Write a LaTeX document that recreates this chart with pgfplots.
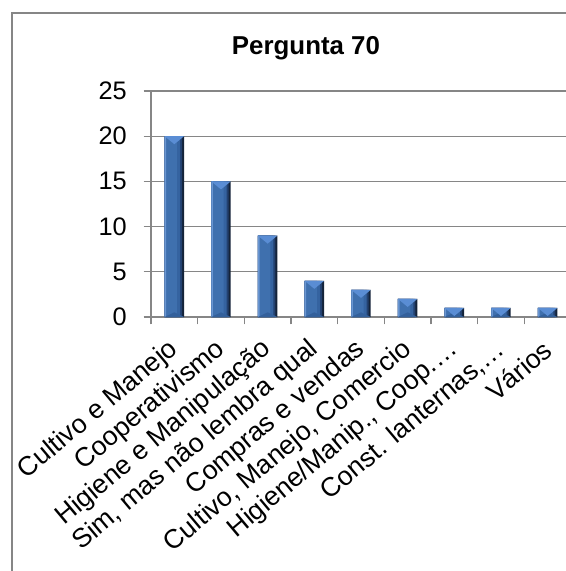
\documentclass[border=0pt]{standalone}
\usepackage{fontspec}
\setmainfont{Liberation Sans}
\usepackage{pgfplots}
\usepackage{pgfplotstable}
\pgfplotsset{compat=1.18}
\definecolor{gridc}{HTML}{868686}
\definecolor{bA}{HTML}{6A96D2}
\definecolor{bC}{HTML}{3F70AE}
\definecolor{bD}{HTML}{3563A0}
\definecolor{bE}{HTML}{234170}
\definecolor{bF}{HTML}{142339}
\definecolor{btop}{HTML}{5A8DD4}
\definecolor{bbot}{HTML}{33609B}
\pgfdeclareplotmark{bevtop}{\pgfpathmoveto{\pgfqpoint{-7.3pt}{0pt}}\pgfpathlineto{\pgfqpoint{7.3pt}{0pt}}\pgfpathlineto{\pgfqpoint{0pt}{-6pt}}\pgfpathclose\pgfusepathqfill}
\pgfdeclareplotmark{bevbot}{\pgfpathmoveto{\pgfqpoint{-7.3pt}{0pt}}\pgfpathlineto{\pgfqpoint{7.3pt}{0pt}}\pgfpathlineto{\pgfqpoint{0pt}{3.5pt}}\pgfpathclose\pgfusepathqfill}
\pgfplotstableread{
x y z
0 20 0
1 15 0
2 9 0
3 4 0
4 3 0
5 2 0
6 1 0
7 1 0
8 1 0
}\datatable
\begin{document}
\begin{tikzpicture}
\path[use as bounding box, clip] (0,0) rectangle (424.5pt,428.25pt);
\fill[white] (0,0) rectangle (424.5pt,428.25pt);
\draw[gridc, line width=0.8pt] (9pt,418.5pt) rectangle (520pt,-60pt);
\node[anchor=base, inner sep=0pt, font=\fontsize{19.4}{23}\selectfont\bfseries] at (229.5pt,387.4pt) {Pergunta 70};
\begin{axis}[
  at={(113.25pt,190.5pt)}, anchor=south west,
  scale only axis, width=315pt, height=169.5pt,
  xmin=-0.5, xmax=8.5, ymin=0, ymax=25,
  axis lines*=left,
  axis line style={gridc, line width=0.8pt},
  ytick={0,5,...,25},
  ymajorgrids, grid style={gridc, line width=0.8pt},
  xtick={-0.5,0.5,...,8.5},
  x tick label as interval,
  xticklabels={{Cultivo e Manejo},{Cooperativismo},{Higiene e Manipulação},{Sim, mas não lembra qual},{Compras e vendas},{Cultivo, Manejo, Comercio},{Higiene/Manip., Coop.…},{Const. lanternas,…},{Vários}},
  tick align=outside, major tick length=5.5pt,
  tick style={gridc, line width=0.8pt},
  /pgf/number format/assume math mode=true,
  tick label style={font=\fontsize{19}{23}\selectfont, black},
  yticklabel style={anchor=east, inner sep=0pt, xshift=-12.5pt},
  xticklabel style={xshift=0.4pt, yshift=-16.25pt, rotate=40, anchor=east, inner sep=0pt, font=\fontsize{20}{24}\selectfont},
  clip=false,
]
\addplot[ybar, bar width=14.6pt, bar shift=0pt, draw=none, fill=bF] table[x=x,y=y]{\datatable};
\addplot[ybar, bar width=13.1pt, bar shift=-0.75pt, draw=none, fill=bE] table[x=x,y=y]{\datatable};
\addplot[ybar, bar width=11.6pt, bar shift=-1.5pt, draw=none, fill=bD] table[x=x,y=y]{\datatable};
\addplot[ybar, bar width=9.3pt, bar shift=-2.65pt, draw=none, fill=bC] table[x=x,y=y]{\datatable};
\addplot[ybar, bar width=1.2pt, bar shift=-6.7pt, draw=none, fill=bA] table[x=x,y=y]{\datatable};
\addplot[only marks, mark=bevbot, color=bbot] table[x=x,y=z]{\datatable};
\addplot[only marks, mark=bevtop, color=btop] table[x=x,y=y]{\datatable};
\end{axis}
\end{tikzpicture}
\end{document}
